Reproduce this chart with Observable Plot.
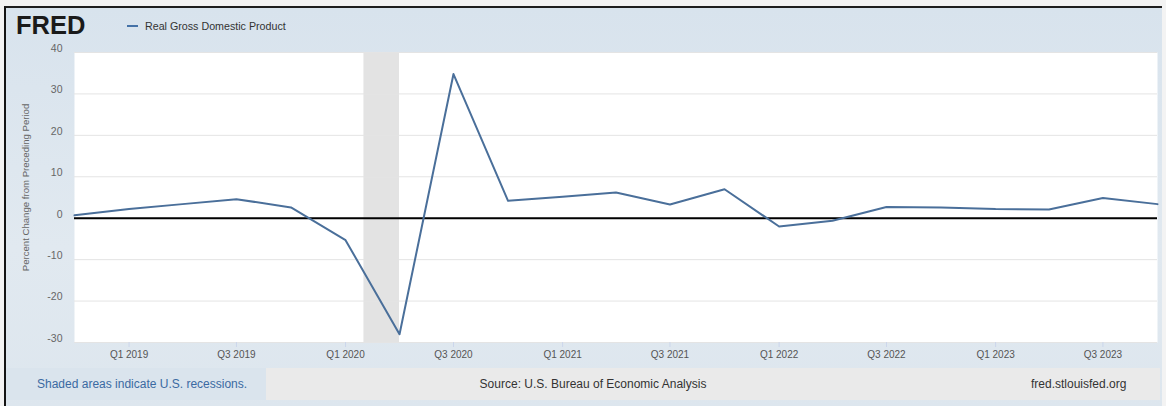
<!DOCTYPE html>
<html>
<head>
<meta charset="utf-8">
<script src="https://cdn.jsdelivr.net/npm/d3@7"></script>
<script src="https://cdn.jsdelivr.net/npm/@observablehq/plot@0.6"></script>
<style>
  html, body { margin: 0; padding: 0; background: #ffffff; }
  body { font-family: "Liberation Sans", Arial, sans-serif; }
  #wrap { position: relative; width: 1166px; height: 406px; overflow: hidden; background: #f3f3f3; }
  #panel { position: absolute; left: 4px; top: 6px; width: 1156px; height: 400px;
           border-left: 2px solid #141414; border-top: 2px solid #1e1e1e;
           background: linear-gradient(180deg, #d8e3ed 0%, #e1e9f0 60%, #dde6ee 100%); }
  #chart { position: absolute; left: 0; top: 0; }
  #logo { position: absolute; left: 16px; top: 11px; font-size: 25.5px; font-weight: 900; color: #1a1a1a;
          letter-spacing: 0px; line-height: 28px; }
  #legend { position: absolute; left: 127px; top: 19px; font-size: 10.7px; color: #333; line-height: 14px; white-space: nowrap; }
  #legend .sw { display: inline-block; width: 11px; height: 2px; background: #4572a7; vertical-align: middle; margin-right: 7px; margin-top: -2px; }
  #footL { position: absolute; left: 6px; top: 368px; width: 260px; height: 32px; background: #dae4ed;
           font-size: 12px; color: #3b6aa2; line-height: 32px; padding-left: 31px; box-sizing: border-box; white-space: nowrap; }
  #footR { position: absolute; left: 266px; top: 368px; width: 894px; height: 32px; background: #eaeaea;
           font-size: 12px; color: #333; line-height: 32px; white-space: nowrap; }
  #source { position: absolute; left: 0; width: 654px; text-align: center; }
  #site { position: absolute; left: 765px; }
</style>
</head>
<body>
<div id="wrap">
  <div id="panel"></div>
  <div id="chart"></div>
  <div id="logo">FRED</div>
  <div id="legend"><span class="sw"></span>Real Gross Domestic Product</div>
  <div id="footL">Shaded areas indicate U.S. recessions.</div>
  <div id="footR"><span id="source">Source: U.S. Bureau of Economic Analysis</span><span id="site">fred.stlouisfed.org</span></div>
</div>
<script>
// ---- data ----
const quarters = [
  "2018-10-01", "2019-01-01", "2019-04-01", "2019-07-01", "2019-10-01",
  "2020-01-01", "2020-04-01", "2020-07-01", "2020-10-01",
  "2021-01-01", "2021-04-01", "2021-07-01", "2021-10-01",
  "2022-01-01", "2022-04-01", "2022-07-01", "2022-10-01",
  "2023-01-01", "2023-04-01", "2023-07-01", "2023-10-01"
];
const gdpGrowth = [
  0.7, 2.2, 3.4, 4.6, 2.6,
  -5.3, -28.0, 34.8, 4.2,
  5.2, 6.2, 3.3, 7.0,
  -2.0, -0.6, 2.7, 2.6,
  2.2, 2.1, 4.9, 3.4
];
const recessionStarts = ["2020-02-01"];
const recessionEnds = ["2020-04-01"];
const yTicks = [-30, -20, -10, 0, 10, 20, 30, 40];
const xTickDates = ["2019-01-01", "2019-07-01", "2020-01-01", "2020-07-01", "2021-01-01",
                    "2021-07-01", "2022-01-01", "2022-07-01", "2023-01-01", "2023-07-01"];
const xTickLabels = ["Q1 2019", "Q3 2019", "Q1 2020", "Q3 2020", "Q1 2021",
                     "Q3 2021", "Q1 2022", "Q3 2022", "Q1 2023", "Q3 2023"];
const yTitle = "Percent Change from Preceding Period";

// ---- build tables ----
const series = quarters.map((q, i) => ({date: new Date(q), value: gdpGrowth[i]}));
const recessions = recessionStarts.map((s, i) => ({start: new Date(s), end: new Date(recessionEnds[i])}));
const xTicks = xTickDates.map(d => new Date(d));
const labelOf = new Map(xTicks.map((d, i) => [+d, xTickLabels[i]]));

const chart = Plot.plot({
  width: 1166,
  height: 368,
  marginLeft: 74,
  marginRight: 9,
  marginTop: 52,
  marginBottom: 26,
  style: {background: "transparent", fontFamily: "'Liberation Sans', Arial, sans-serif", overflow: "visible"},
  x: {type: "utc", domain: [series[0].date, series[series.length - 1].date]},
  y: {domain: [-30, 40]},
  marks: [
    Plot.frame({fill: "#ffffff", stroke: null}),
    Plot.rect(recessions, {x1: "start", x2: "end", fill: "#e3e3e3"}),
    Plot.gridY(yTicks, {stroke: "#e4e4e4", strokeOpacity: 1}),
    Plot.ruleY([0], {stroke: "#000000", strokeWidth: 2}),
    Plot.line(series, {x: "date", y: "value", stroke: "#4a6f9a", strokeWidth: 2}),
    Plot.axisY(yTicks, {
      tickSize: 0, tickPadding: 12, dy: -4, fill: "#666666", fontSize: 10.5,
      tickFormat: d => String(d), label: null
    }),
    Plot.text([yTitle], {
      frameAnchor: "left", textAnchor: "middle", rotate: -90, dx: -49, dy: -10,
      fill: "#666666", fontSize: 9.6, text: d => d
    }),
    Plot.axisX(xTicks, {
      tickSize: 5, tickPadding: 3, stroke: "#ccd6eb", fill: "#555555", fontSize: 10,
      tickFormat: d => labelOf.get(+d), label: null
    })
  ]
});
document.getElementById("chart").appendChild(chart);
</script>
</body>
</html>
